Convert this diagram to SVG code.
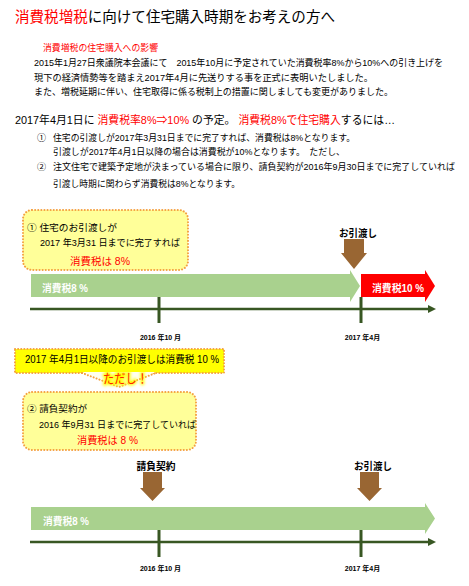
<svg xmlns="http://www.w3.org/2000/svg" width="469" height="586" viewBox="0 0 469 586">
<defs>
<style>
text{font-family:"Liberation Sans","Noto Sans CJK JP",sans-serif;fill:#000}
.red{fill:#FF0000}
.b{font-weight:bold}
.callout{fill:#FFFF99;stroke:#F4A040;stroke-width:2;stroke-dasharray:0.1 3;stroke-linecap:round}
.banner{fill:#FFFF00;stroke:#F4A040;stroke-width:2;stroke-dasharray:0.1 3;stroke-linecap:round}
.dots{fill:none;stroke:#F4A040;stroke-width:2;stroke-dasharray:0.1 3;stroke-linecap:round}
.band{fill:#A9D18E}
.redband{fill:#FF0000}
.down{fill:#996633}
.axis{stroke:#385723;stroke-width:2.5;fill:none}
.tick{stroke:#385723;stroke-width:3}
.glow{stroke:#B5D99C;stroke-width:13;opacity:0.85;fill:none}
.wt{fill:#FFFFFF;font-weight:bold;font-size:10px}
.date{font-size:7px;font-weight:bold}
.lbl{font-size:10px;font-weight:bold}
</style>
<filter id="blur" x="-10%" y="-200%" width="120%" height="500%"><feGaussianBlur stdDeviation="3"/></filter>
<filter id="tglow" x="-20%" y="-50%" width="140%" height="200%"><feGaussianBlur stdDeviation="1.5"/></filter>
</defs>
<rect width="469" height="586" fill="#FFFFFF"/>

<g id="header">
<text x="15" y="21.5" font-size="14.5" textLength="320" lengthAdjust="spacingAndGlyphs"><tspan class="red">消費税増税</tspan>に向けて住宅購入時期をお考えの方へ</text>
<text x="43" y="51" font-size="9" class="red" textLength="115" lengthAdjust="spacingAndGlyphs">消費増税の住宅購入への影響</text>
<text x="34" y="66" font-size="9.5" textLength="409" lengthAdjust="spacingAndGlyphs">2015年1月27日衆議院本会議にて　2015年10月に予定されていた消費税率8%から10%への引き上げを</text>
<text x="34" y="81" font-size="9.5" textLength="339" lengthAdjust="spacingAndGlyphs">現下の経済情勢等を踏まえ2017年4月に先送りする事を正式に表明いたしました。</text>
<text x="34" y="95" font-size="9.5" textLength="359" lengthAdjust="spacingAndGlyphs">また、増税延期に伴い、住宅取得に係る税制上の措置に関しましても変更がありました。</text>
</g>

<g id="conditions">
<text x="15" y="124" font-size="11" textLength="380" lengthAdjust="spacingAndGlyphs">2017年4月1日に <tspan class="red">消費税率8%⇒10%</tspan> の予定。 <tspan class="red">消費税8%で住宅購入</tspan>するには…</text>
<text x="37" y="141" font-size="9">①</text>
<text x="53" y="141" font-size="9" textLength="302" lengthAdjust="spacingAndGlyphs">住宅の引渡しが2017年3月31日までに完了すれば、消費税は8%となります。</text>
<text x="53" y="155" font-size="9" textLength="292" lengthAdjust="spacingAndGlyphs">引渡しが2017年4月1日以降の場合は消費税が10%となります。　ただし、</text>
<text x="37" y="170" font-size="9">②</text>
<text x="53" y="170" font-size="9" textLength="402" lengthAdjust="spacingAndGlyphs">注文住宅で建築予定地が決まっている場合に限り、請負契約が2016年9月30日までに完了していれば</text>
<text x="53" y="187" font-size="9" textLength="187" lengthAdjust="spacingAndGlyphs">引渡し時期に関わらず消費税は8%となります。</text>
</g>

<g id="callout1">
<rect class="callout" x="23" y="210" width="165" height="60" rx="9"/>
<text x="27" y="231" font-size="9.5" textLength="90" lengthAdjust="spacingAndGlyphs">①  住宅のお引渡しが</text>
<text x="40" y="246" font-size="9.5" textLength="140" lengthAdjust="spacingAndGlyphs">2017 年3月31 日までに完了すれば</text>
<text x="70" y="265" font-size="10" class="red" textLength="60" lengthAdjust="spacingAndGlyphs">消費税は  8%</text>
</g>

<g id="timeline1">
<g id="axis1">
<line class="glow" x1="30" y1="309" x2="436" y2="309" filter="url(#blur)"/>
<line class="glow" x1="159" y1="299" x2="159" y2="321" filter="url(#blur)" style="stroke-width:9"/>
<line class="glow" x1="361" y1="299" x2="361" y2="321" filter="url(#blur)" style="stroke-width:9"/>
<line class="axis" x1="30" y1="309" x2="430" y2="309"/>
<polygon points="428,305 436,309 428,313" fill="#385723"/>
<line class="tick" x1="159" y1="297" x2="159" y2="323"/>
<line class="tick" x1="361" y1="297" x2="361" y2="323"/>
<text class="date" x="160.5" y="339.5" text-anchor="middle">2016 年10 月</text>
<text class="date" x="362.5" y="339.5" text-anchor="middle">2017 年4月</text>
</g>
<g id="band8a">
<path class="band" d="M31,274 H350 V270 L360,286 L350,302 V297 H31 Z"/>
<text class="wt" x="42" y="291.5" textLength="46" lengthAdjust="spacingAndGlyphs">消費税8 %</text>
</g>
<g id="band10">
<path class="redband" d="M361,274 H425 V270 L435,286 L425,302 V297 H361 Z"/>
<text class="wt" x="372" y="291.5" textLength="52" lengthAdjust="spacingAndGlyphs">消費税10 %</text>
</g>
<g id="delivery1">
<text class="lbl" x="358" y="236.5" text-anchor="middle" textLength="38" lengthAdjust="spacingAndGlyphs">お引渡し</text>
<path class="down" d="M344,239 H364 V253 H367 L354,269 L341,253 H344 Z"/>
</g>
</g>

<g id="banner">
<rect class="banner" x="15" y="349" width="209" height="24"/>
<polygon points="82,372 119,387 156,372" fill="#FFFFF0"/>
<polyline class="dots" points="82,373 119,387 156,373"/>
<text x="25" y="362.5" font-size="10" textLength="194" lengthAdjust="spacingAndGlyphs">2017  年4月1日以降のお引渡しは消費税 10 %</text>
<text x="103" y="383" font-size="13" textLength="45" lengthAdjust="spacingAndGlyphs" filter="url(#tglow)" style="fill:#FFFF00;stroke:#FFFF00;stroke-width:3">ただし！</text>
<text x="103" y="383" font-size="13" textLength="45" lengthAdjust="spacingAndGlyphs" style="fill:#FF2200">ただし！</text>
</g>

<g id="callout2">
<rect class="callout" x="23" y="392" width="173" height="58" rx="9"/>
<text x="27" y="411.5" font-size="9.5" textLength="60" lengthAdjust="spacingAndGlyphs">②  請負契約が</text>
<text x="39" y="427.5" font-size="9.5" textLength="157" lengthAdjust="spacingAndGlyphs">2016  年9月31 日までに完了していれば</text>
<text x="77" y="443.5" font-size="10" class="red" textLength="61" lengthAdjust="spacingAndGlyphs">消費税は  8  %</text>
</g>

<g id="timeline2">
<g id="axis2">
<line class="glow" x1="30" y1="542" x2="436" y2="542" filter="url(#blur)"/>
<line class="glow" x1="159" y1="532" x2="159" y2="555" filter="url(#blur)" style="stroke-width:9"/>
<line class="glow" x1="361" y1="532" x2="361" y2="555" filter="url(#blur)" style="stroke-width:9"/>
<path class="band" d="M31,507 H425 V503 L435,518.5 L425,534 V530 H31 Z"/>
<line class="axis" x1="30" y1="542" x2="430" y2="542"/>
<polygon points="428,538 436,542 428,546" fill="#385723"/>
<line class="tick" x1="159" y1="530" x2="159" y2="557"/>
<line class="tick" x1="361" y1="530" x2="361" y2="557"/>
<text class="date" x="160.5" y="570.5" text-anchor="middle">2016 年10 月</text>
<text class="date" x="362.5" y="570.5" text-anchor="middle">2017 年4月</text>
</g>
<g id="band8b">
<text class="wt" x="43" y="524.5" textLength="46" lengthAdjust="spacingAndGlyphs">消費税8 %</text>
</g>
<g id="contract">
<text class="lbl" x="156" y="469.5" text-anchor="middle" textLength="39" lengthAdjust="spacingAndGlyphs">請負契約</text>
<path class="down" d="M143,472 H162 V488 H165 L152.5,501 L140,488 H143 Z"/>
</g>
<g id="delivery2">
<text class="lbl" x="373" y="469.5" text-anchor="middle" textLength="38" lengthAdjust="spacingAndGlyphs">お引渡し</text>
<path class="down" d="M360,472 H379 V488 H382 L369.5,501 L357,488 H360 Z"/>
</g>
</g>
</svg>
